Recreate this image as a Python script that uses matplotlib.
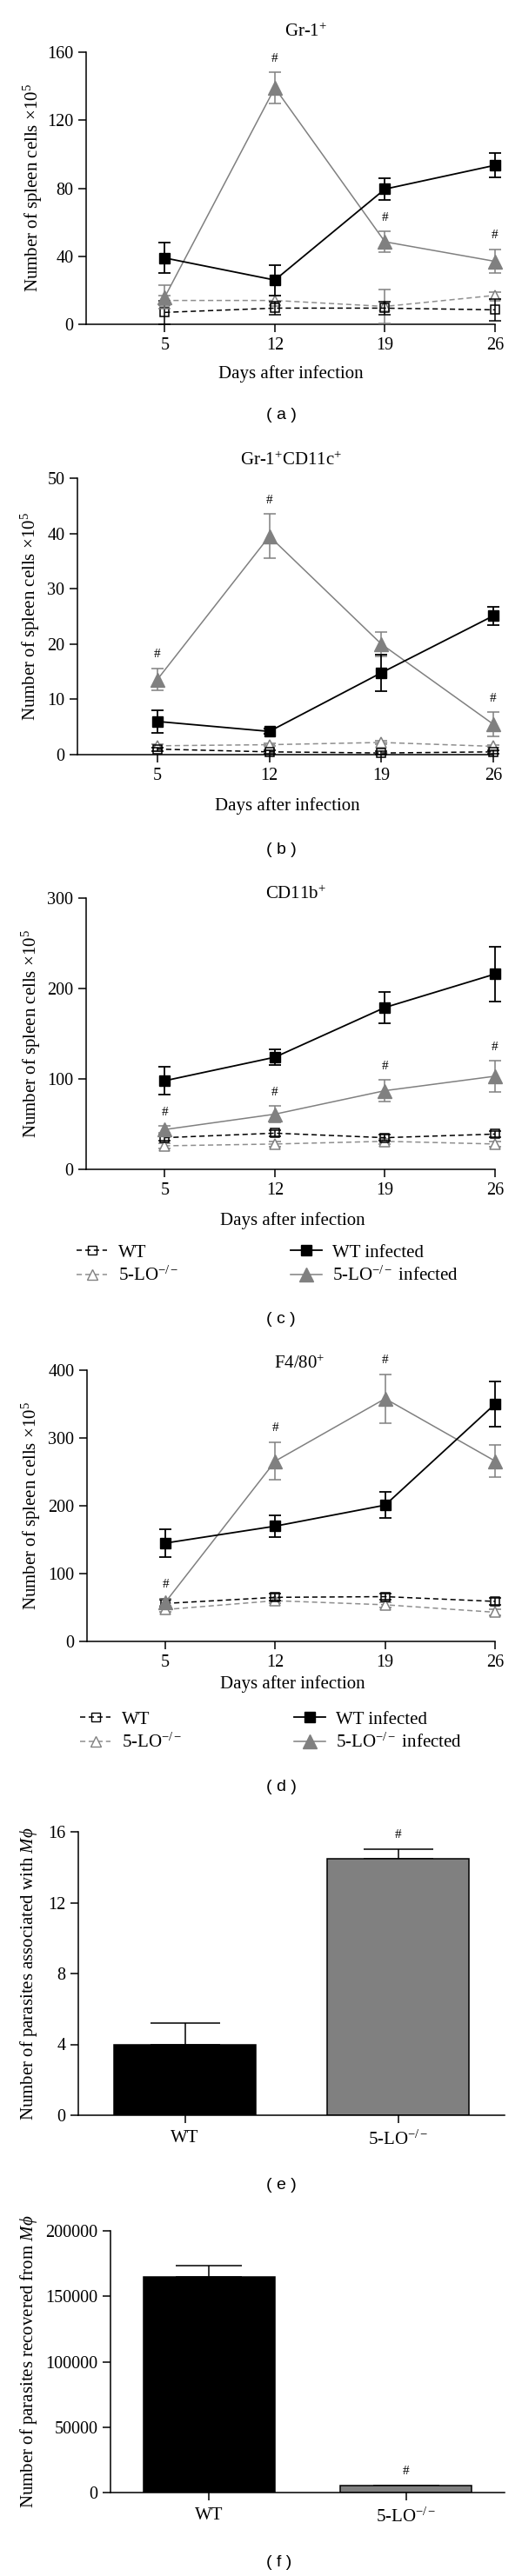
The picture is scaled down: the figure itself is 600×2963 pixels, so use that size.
import matplotlib
matplotlib.use("Agg")
import matplotlib.pyplot as plt
from matplotlib.lines import Line2D

plt.rcParams['font.family'] = ['Liberation Serif', 'DejaVu Serif']
plt.rcParams['mathtext.fontset'] = 'custom'
plt.rcParams['mathtext.rm'] = 'Liberation Serif'
plt.rcParams['mathtext.it'] = 'Liberation Serif:italic'
plt.rcParams['mathtext.bf'] = 'Liberation Serif:bold'

# ---------------- data ----------------
days = [5, 12, 19, 26]

a_wt = [7, 9.5, 9.5, 8.5];      a_wt_err = [7, 4, 4, 6.5]
a_lo = [14, 14, 10.5, 17];      a_lo_err = [3, 3, 10, 2]
a_wti = [39, 26, 79.5, 93.5];   a_wti_err = [9, 9, 6.5, 7]
a_loi = [16, 139, 48.5, 37];    a_loi_err = [7, 9, 6, 7]
a_hash = [12, 19, 26]

b_wt = [1.0, 0.5, 0.3, 0.5];    b_wt_err = [0.3, 0.3, 0.3, 0.3]
b_lo = [1.6, 1.8, 2.2, 1.5];    b_lo_err = [0.3, 0.3, 0.3, 0.3]
b_wti = [6, 4.2, 14.8, 25.1];   b_wti_err = [2, 0.5, 3.3, 1.7]
b_loi = [13.6, 39.5, 20, 5.5];  b_loi_err = [2, 4, 2.2, 2.2]
b_hash = [5, 12, 26]

c_wt = [35, 40, 35, 39];        c_wt_err = [3, 3, 3, 3]
c_lo = [26, 28, 31, 28];        c_lo_err = [3, 3, 3, 3]
c_wti = [98, 124, 179, 216];    c_wti_err = [15, 9, 17, 30]
c_loi = [44, 61, 87, 103];      c_loi_err = [4, 9, 12, 17]
c_hash = [5, 12, 19, 26]

d_wt = [56, 65, 66, 59];        d_wt_err = [5, 5, 5, 5]
d_lo = [47, 60, 54, 43];        d_lo_err = [4, 4, 4, 4]
d_wti = [145, 170, 201, 350];   d_wti_err = [21, 16, 19, 33]
d_loi = [58, 266, 358, 266];    d_loi_err = [5, 28, 36, 24]
d_hash = [5, 12, 19]

bar_cats = ['WT', '5-LO$^{-/-}$']
e_vals = [4.0, 14.5];           e_err = [1.2, 0.5]
f_vals = [165000, 5000];        f_err = [8500, 400]

ylab_spleen = 'Number of spleen cells $\\times$10$^{5}$'
xlab_days = 'Days after infection'

# ---------------- layout ----------------
W, H = 600, 2963
fig = plt.figure(figsize=(W / 100, H / 100), dpi=100)

GRAY = '#808080'
LGRAY = '#8f8f8f'
FS = 15
TFS = 14.5


def ax_px(l, r, t, b):
    return fig.add_axes([l / W, 1 - b / H, (r - l) / W, (b - t) / H])


def ftext(x, y, s, **kw):
    kw.setdefault('ha', 'center')
    kw.setdefault('va', 'center')
    return fig.text(x / W, 1 - y / H, s, **kw)


def style(ax):
    for s in ['top', 'right']:
        ax.spines[s].set_visible(False)
    for s in ['left', 'bottom']:
        ax.spines[s].set_linewidth(1.1)
    ax.tick_params(direction='out', length=6.5, width=1.1, labelsize=TFS, pad=4)


def line_panel(ax, wt, wte, lo, loe, wti, wtie, loi, loie, hashes, ylim, yticks):
    ax.errorbar(days, lo, yerr=loe, color=LGRAY, ls=(0, (4, 2.5)), lw=1.1,
                marker='^', ms=9, mfc='white', mec=GRAY, mew=1.1,
                ecolor=GRAY, elinewidth=1.1, capsize=5, capthick=1.1, clip_on=False, zorder=3)
    ax.errorbar(days, wt, yerr=wte, color='black', ls=(0, (4, 2.5)), lw=1.1,
                marker='s', ms=7, mfc='none', mec='black', mew=1.1,
                ecolor='black', elinewidth=1.1, capsize=5, capthick=1.1, clip_on=False, zorder=4)
    ax.errorbar(days, loi, yerr=loie, color=GRAY, ls='-', lw=1.1,
                marker='^', ms=11, mfc=GRAY, mec=GRAY,
                ecolor=GRAY, elinewidth=1.1, capsize=5, capthick=1.1, clip_on=False, zorder=5)
    ax.errorbar(days, wti, yerr=wtie, color='black', ls='-', lw=1.3,
                marker='s', ms=8.5, mfc='black', mec='black',
                ecolor='black', elinewidth=1.3, capsize=5, capthick=1.3, clip_on=False, zorder=6)
    for d in hashes:
        i = days.index(d)
        ax.annotate('#', xy=(d, loi[i] + loie[i]), xytext=(0, 11.5),
                    textcoords='offset points', ha='center', va='center',
                    fontsize=11, annotation_clip=False)
    ax.set_xlim(0, 26)
    ax.set_ylim(*ylim)
    ax.set_xticks(days)
    ax.set_xticklabels([str(d) for d in days])
    ax.set_yticks(yticks)
    ax.set_yticklabels([str(t) for t in yticks])
    style(ax)


def legend_at(x, y):
    handles = [
        Line2D([], [], color='black', ls=(0, (4, 2.5)), lw=1.1, marker='s', ms=7,
               mfc='none', mec='black'),
        Line2D([], [], color=LGRAY, ls=(0, (4, 2.5)), lw=1.1, marker='^', ms=9,
               mfc='white', mec=GRAY),
        Line2D([], [], color='black', ls='-', lw=1.3, marker='s', ms=8.5,
               mfc='black', mec='black'),
        Line2D([], [], color=GRAY, ls='-', lw=1.1, marker='^', ms=11,
               mfc=GRAY, mec=GRAY),
    ]
    labels = ['WT', '5-LO$^{-/-}$', 'WT infected', '5-LO$^{-/-}$ infected']
    fig.legend(handles, labels, loc='upper left', bbox_to_anchor=(x / W, 1 - y / H),
               ncol=2, frameon=False, fontsize=FS, borderpad=0, borderaxespad=0,
               handlelength=1.7, handletextpad=0.6, columnspacing=6.2,
               labelspacing=0.3)


# (a)
ax = ax_px(99, 569, 60, 373)
line_panel(ax, a_wt, a_wt_err, a_lo, a_lo_err, a_wti, a_wti_err, a_loi, a_loi_err,
           a_hash, (0, 160), [0, 40, 80, 120, 160])
ftext(352, 37, 'Gr-1$^{+}$', fontsize=FS)
ftext(334, 430, xlab_days, fontsize=FS)
ftext(38, 216, ylab_spleen, fontsize=FS, rotation=90)
ftext(323, 478, '( a )', fontsize=14, family='Liberation Sans')

# (b)
ax = ax_px(89, 567, 550, 868)
line_panel(ax, b_wt, b_wt_err, b_lo, b_lo_err, b_wti, b_wti_err, b_loi, b_loi_err,
           b_hash, (0, 50), [0, 10, 20, 30, 40, 50])
ftext(335, 530, 'Gr-1$^{+}$CD11c$^{+}$', fontsize=FS)
ftext(330, 927, xlab_days, fontsize=FS)
ftext(35, 709, ylab_spleen, fontsize=FS, rotation=90)
ftext(323, 977, '( b )', fontsize=14, family='Liberation Sans')

# (c)
ax = ax_px(99, 569, 1033, 1345)
line_panel(ax, c_wt, c_wt_err, c_lo, c_lo_err, c_wti, c_wti_err, c_loi, c_loi_err,
           c_hash, (0, 300), [0, 100, 200, 300])
ftext(340, 1029, 'CD11b$^{+}$', fontsize=FS)
ftext(336, 1404, xlab_days, fontsize=FS)
ftext(36, 1189, ylab_spleen, fontsize=FS, rotation=90)
legend_at(88, 1431)
ftext(323, 1518, '( c )', fontsize=14, family='Liberation Sans')

# (d)
ax = ax_px(100, 569, 1576, 1888)
line_panel(ax, d_wt, d_wt_err, d_lo, d_lo_err, d_wti, d_wti_err, d_loi, d_loi_err,
           d_hash, (0, 400), [0, 100, 200, 300, 400])
ftext(344, 1569, 'F4/80$^{+}$', fontsize=FS)
ftext(336, 1937, xlab_days, fontsize=FS)
ftext(36, 1732, ylab_spleen, fontsize=FS, rotation=90)
legend_at(92, 1968)
ftext(323, 2056, '( d )', fontsize=14, family='Liberation Sans')


def bar_panel(ax, vals, errs, ylim, yticks, capsize, hash_idx):
    x = list(range(len(vals)))
    ax.bar(x, vals, width=0.665, color=['black', GRAY], edgecolor='black', linewidth=1.1,
           zorder=2)
    ax.errorbar(x, vals, yerr=[[0] * len(errs), errs], fmt='none', ecolor='black',
                elinewidth=1.1, capsize=capsize, capthick=1.1, zorder=1)
    i = hash_idx
    ax.annotate('#', xy=(i, vals[i] + errs[i]), xytext=(0, 12),
                textcoords='offset points', ha='center', va='center', fontsize=11,
                annotation_clip=False)
    ax.set_xlim(-0.5, 1.5)
    ax.set_ylim(*ylim)
    ax.set_xticks(x)
    ax.set_xticklabels(bar_cats, fontsize=FS)
    ax.set_yticks(yticks)
    ax.set_yticklabels([str(t) for t in yticks])
    style(ax)
    ax.tick_params(axis='x', labelsize=FS, pad=6)


# (e)
ax = ax_px(90, 580, 2107, 2433)
bar_panel(ax, e_vals, e_err, (0, 16), [0, 4, 8, 12, 16], 29, 1)
ftext(33, 2270, 'Number of parasites associated with $\\it{M}\\phi$', fontsize=FS,
      rotation=90)
ftext(323, 2513, '( e )', fontsize=14, family='Liberation Sans')

# (f)
ax = ax_px(127, 580, 2566, 2867)
bar_panel(ax, f_vals, f_err, (0, 200000), [0, 50000, 100000, 150000, 200000], 27.5, 1)
ftext(33, 2716, 'Number of parasites recovered from $\\it{M}\\phi$', fontsize=FS,
      rotation=90)
ftext(321, 2947, '( f )', fontsize=14, family='Liberation Sans')

fig.savefig('out.png', dpi=100)
